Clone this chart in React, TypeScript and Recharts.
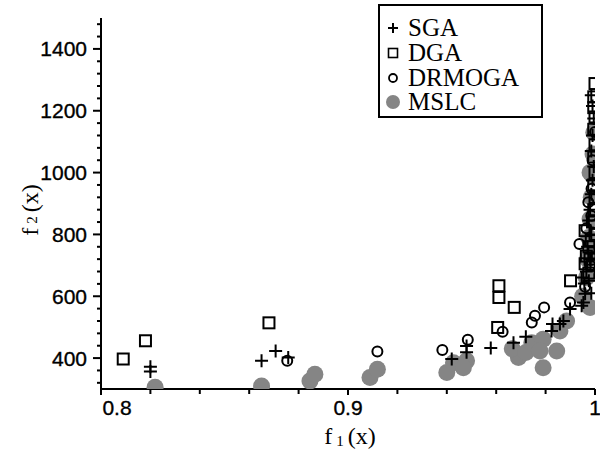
import { ScatterChart, Scatter, XAxis, YAxis, Legend } from 'recharts';

// f1(x), f2(x) pairs
const SGA: [number, number][] = [
  [0.820, 372], [0.820, 357], [0.865, 391], [0.8707, 423], [0.8758, 402],
  [0.942, 397], [0.948, 419], [0.948, 439], [0.9578, 433], [0.967, 450],
  [0.972, 469], [0.9824, 488], [0.9828, 510], [0.9858, 510], [0.9872, 520],
  [0.9899, 559], [0.9953, 580], [0.9957, 641], [0.9946, 569], [0.996, 608],
  [0.9946, 661], [0.9985, 610], [0.9975, 650], [0.9965, 680], [0.998, 720],
  [0.997, 760], [0.9985, 800], [0.9975, 845], [0.998, 880], [0.9985, 930],
  [0.999, 975], [0.9995, 1020], [0.9985, 1070], [0.999, 1120], [0.9995, 1175],
  [0.999, 1215], [0.9985, 1250],
];

const DGA: [number, number][] = [
  [0.809, 397], [0.818, 456], [0.868, 514], [0.9611, 634], [0.9611, 596],
  [0.9673, 564], [0.9606, 499], [0.9901, 650], [0.996, 812], [0.996, 705],
  [0.9975, 760], [0.9965, 730], [1.0, 1288], [0.9995, 1245], [0.9995, 1210],
  [1.0, 1180], [0.9995, 1140], [1.0, 1090], [0.9995, 1050], [1.0, 1000],
  [0.9995, 960], [1.0, 920], [0.9995, 880], [0.999, 840], [1.0, 800],
  [0.9985, 780], [0.9995, 740], [0.998, 720], [0.999, 700], [0.9975, 675],
];

const DRMOGA: [number, number][] = [
  [0.8754, 391], [0.9119, 421], [0.9382, 426], [0.9485, 459], [0.9626, 485],
  [0.9744, 515], [0.9757, 537], [0.9794, 564], [0.9899, 580], [0.996, 631],
  [0.9937, 769], [0.9973, 904], [0.9986, 948], [1.0, 1131], [0.9985, 860],
  [0.998, 700], [0.999, 1040], [0.9965, 820],
];

const MSLC: [number, number][] = [
  [0.8219, 306], [0.865, 310], [0.8846, 326], [0.8866, 348], [0.9089, 337],
  [0.9119, 364], [0.94, 353], [0.9427, 385], [0.948, 391], [0.9467, 369],
  [0.969, 402], [0.9665, 430], [0.972, 418], [0.9744, 450], [0.979, 461],
  [0.979, 369], [0.9845, 423], [0.9777, 423], [0.9858, 488], [0.9885, 520],
  [0.998, 564], [0.995, 600], [0.9965, 660], [0.997, 720], [0.9975, 790],
  [0.998, 850], [0.9985, 920], [0.999, 990], [0.9992, 1060], [0.9995, 1130],
  [0.998, 1000], [0.999, 760],
];

const xTicks = [0.8, 0.82, 0.84, 0.86, 0.88, 0.9, 0.92, 0.94, 0.96, 0.98, 1];
const xLabels: Record<string, string> = { '0.8': '0.8', '0.9': '0.9', '1': '1' };
const yTicks = [
  320, 360, 400, 440, 480, 520, 560, 600, 640, 680, 720, 760, 800, 840, 880,
  920, 960, 1000, 1040, 1080, 1120, 1160, 1200, 1240, 1280, 1320, 1360, 1400, 1440, 1480,
];

const toPts = (arr: [number, number][]) => arr.map(([x, y]) => ({ x, y }));

const tickFont = '"Liberation Sans", Arial, sans-serif';
const serif = '"Liberation Serif", "Times New Roman", serif';
const grey = '#858585';

const Cross = (p: any) => (
  <path d={`M${p.cx - 6.5},${p.cy}h13M${p.cx},${p.cy - 6.5}v13`} stroke="#000" strokeWidth={2} fill="none" />
);
const Square = (p: any) => (
  <rect x={p.cx - 5.5} y={p.cy - 5.5} width={11} height={11} stroke="#000" strokeWidth={2} fill="none" />
);
const Ring = (p: any) => <circle cx={p.cx} cy={p.cy} r={5} stroke="#000" strokeWidth={2} fill="none" />;
const Dot = (p: any) => <circle cx={p.cx} cy={p.cy} r={8.5} fill={grey} />;

const XTick = (p: any) => {
  const v = Math.round(p.payload.value * 100) / 100;
  const label = xLabels[String(v)];
  const dx = v === 0.8 ? 16 : 0;
  return (
    <g>
      <line x1={p.x} x2={p.x} y1={p.y} y2={p.y + (label ? 6 : 5)} stroke="#000" strokeWidth={2} />
      {label && (
        <text x={p.x + dx} y={p.y + 26} textAnchor="middle" fontFamily={tickFont} fontSize={21} fill="#000" stroke="#000" strokeWidth={0.35}>
          {label}
        </text>
      )}
    </g>
  );
};

const YTick = (p: any) => {
  const v = p.payload.value;
  const major = v % 200 === 0;
  return (
    <g>
      <line x1={p.x - (major ? 8 : 4)} x2={p.x} y1={p.y} y2={p.y} stroke="#000" strokeWidth={2} />
      {major && (
        <text x={p.x - 14} y={p.y} dy="0.36em" textAnchor="end" fontFamily={tickFont} fontSize={21} fill="#000" stroke="#000" strokeWidth={0.35}>
          {v}
        </text>
      )}
    </g>
  );
};

const XTitle = () => (
  <text x={350} y={444} textAnchor="middle" fontFamily={serif} fontSize={24} fill="#000">
    <tspan>f</tspan>
    <tspan fontSize={15} dx={4} dy={2}>1</tspan>
    <tspan dx={4} dy={-2}>(x)</tspan>
  </text>
);

const YTitle = () => (
  <text x={30} y={210} textAnchor="middle" dominantBaseline="central" fontFamily={serif} fontSize={24} fill="#000" transform="rotate(-90, 30, 210)">
    <tspan>f</tspan>
    <tspan fontSize={15} dx={4} dy={2}>2</tspan>
    <tspan dx={4} dy={-2}>(x)</tspan>
  </text>
);

const legendItems = [
  { name: 'SGA', icon: <path d="M2,7h10M7,2v10" stroke="#000" strokeWidth={2} /> },
  { name: 'DGA', icon: <rect x={2.5} y={2.5} width={9} height={9} stroke="#000" strokeWidth={1.6} fill="none" /> },
  { name: 'DRMOGA', icon: <circle cx={7} cy={7} r={4} stroke="#000" strokeWidth={1.8} fill="none" /> },
  { name: 'MSLC', icon: <circle cx={7} cy={7} r={7} fill={grey} /> },
];

const LegendBox = () => (
  <div
    style={{
      width: 165,
      height: 114,
      border: '2px solid #000',
      boxSizing: 'border-box',
      background: '#fff',
      padding: '10px 0 0 4px',
    }}
  >
    {legendItems.map((it) => (
      <div key={it.name} style={{ display: 'flex', alignItems: 'center', height: 24.7 }}>
        <svg width={14} height={14} style={{ marginLeft: 2 }}>{it.icon}</svg>
        <span style={{ fontFamily: serif, fontSize: 25, lineHeight: '24px', marginLeft: 8, color: '#000' }}>
          {it.name}
        </span>
      </div>
    ))}
  </div>
);

export default function App() {
  return (
    <div style={{ position: 'absolute', left: 0, top: 0, width: 600, height: 451, background: '#fff' }}>
      <ScatterChart width={600} height={451} margin={{ top: 18, right: 5, bottom: 0, left: 41 }}>
        <XAxis
          type="number"
          dataKey="x"
          domain={[0.8, 1]}
          ticks={xTicks}
          interval={0}
          allowDataOverflow
          height={62}
          tickSize={0}
          tickMargin={0}
          tickLine={false}
          tick={<XTick />}
          axisLine={{ stroke: '#000', strokeWidth: 2 }}
          label={XTitle}
        />
        <YAxis
          type="number"
          dataKey="y"
          domain={[300, 1500]}
          ticks={yTicks}
          interval={0}
          allowDataOverflow
          width={60}
          tickSize={0}
          tickMargin={0}
          tickLine={false}
          tick={<YTick />}
          axisLine={{ stroke: '#000', strokeWidth: 2 }}
          label={YTitle}
        />
        <Legend
          layout="vertical"
          align="center"
          verticalAlign="middle"
          content={LegendBox}
          wrapperStyle={{ left: 378, top: 4, width: 165, height: 114 }}
        />
        <Scatter name="MSLC" data={toPts(MSLC)} shape={Dot} isAnimationActive={false} />
        <Scatter name="DGA" data={toPts(DGA)} shape={Square} isAnimationActive={false} />
        <Scatter name="DRMOGA" data={toPts(DRMOGA)} shape={Ring} isAnimationActive={false} />
        <Scatter name="SGA" data={toPts(SGA)} shape={Cross} isAnimationActive={false} />
      </ScatterChart>
    </div>
  );
}
